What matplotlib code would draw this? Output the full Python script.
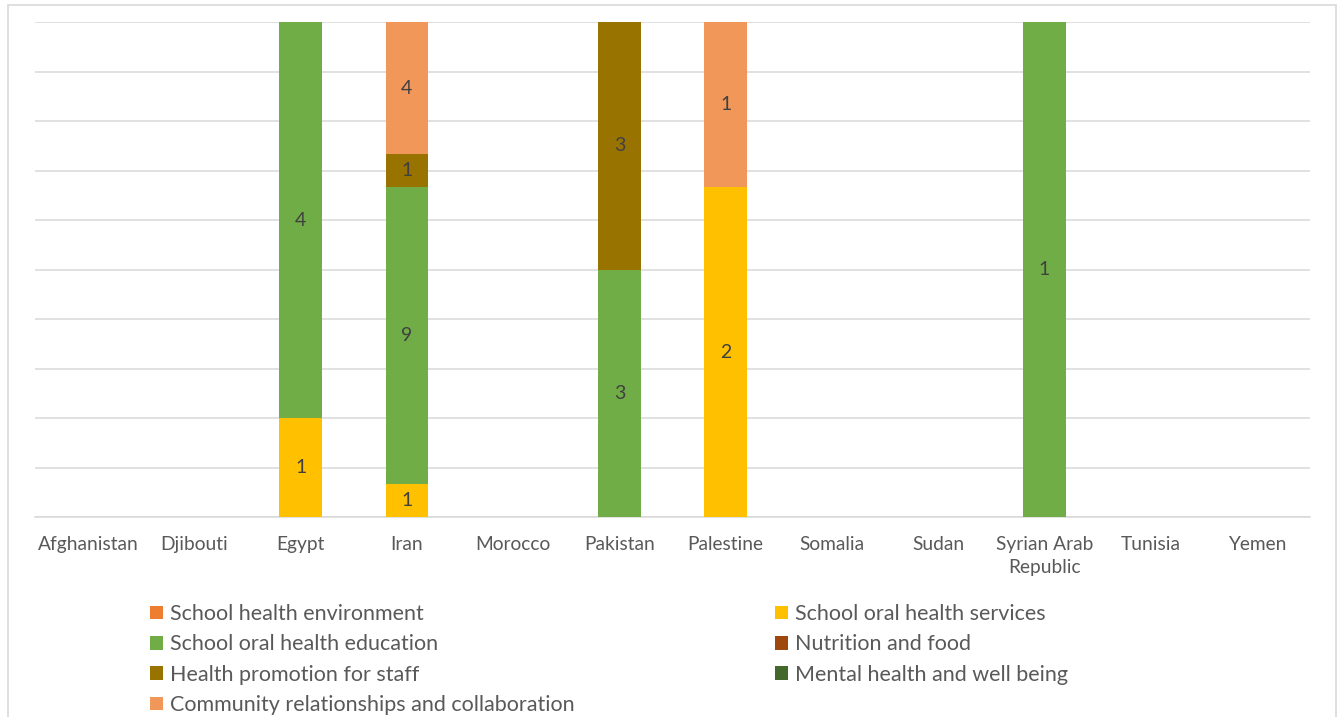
import matplotlib.pyplot as plt
import numpy as np
from matplotlib.patches import Rectangle

countries = ['Afghanistan', 'Djibouti', 'Egypt', 'Iran', 'Morocco', 'Pakistan', 'Palestine',
             'Somalia', 'Sudan', 'Syrian Arab\nRepublic', 'Tunisia', 'Yemen']
series_names = ['School health environment', 'School oral health services',
                'School oral health education', 'Nutrition and food',
                'Health promotion for staff', 'Mental health and well being',
                'Community relationships and collaboration']
env = [0, 0, 0, 0, 0, 0, 0, 0, 0, 0, 0, 0]
services = [0, 0, 1, 1, 0, 0, 2, 0, 0, 0, 0, 0]
education = [0, 0, 4, 9, 0, 3, 0, 0, 0, 1, 0, 0]
nutrition = [0, 0, 0, 0, 0, 0, 0, 0, 0, 0, 0, 0]
staff = [0, 0, 0, 1, 0, 3, 0, 0, 0, 0, 0, 0]
mental = [0, 0, 0, 0, 0, 0, 0, 0, 0, 0, 0, 0]
community = [0, 0, 0, 4, 0, 0, 1, 0, 0, 0, 0, 0]
colors = ['#ED7D31', '#FFC000', '#70AD47', '#9E480E', '#997300', '#43682B', '#F1975A']

plt.rcParams['font.family'] = ['Lato', 'DejaVu Sans']

data = np.array([env, services, education, nutrition, staff, mental, community], dtype=float)
totals = data.sum(axis=0)
pct = np.divide(data, totals, out=np.zeros_like(data), where=totals > 0) * 100

fig = plt.figure(figsize=(13.38, 7.17), dpi=100)
ax = fig.add_axes([35/1338, 1-517/717, (1310-35)/1338, 495/717])

x = np.arange(len(countries))
bottom = np.zeros(len(countries))
handles = []
for i in range(len(series_names)):
    b = ax.bar(x, pct[i], 0.4, bottom=bottom, color=colors[i], label=series_names[i], zorder=3)
    handles.append(b)
    for j in range(len(countries)):
        if data[i, j] > 0:
            ax.text(x[j], bottom[j] + pct[i, j]/2, '%d' % data[i, j], ha='center', va='center',
                    fontsize=14, color='#404040', zorder=4)
    bottom += pct[i]

ax.set_xlim(-0.5, len(countries) - 0.5)
ax.set_ylim(0, 100)
ax.set_yticks(np.arange(0, 101, 10))
ax.set_yticklabels([])
ax.tick_params(axis='y', length=0)
ax.set_xticks(x)
ax.set_xticklabels(countries, fontsize=13.75, color='#595959', linespacing=1.45)
ax.tick_params(axis='x', length=0, pad=13.5)
ax.grid(axis='y', color='#D9D9D9', linewidth=1.1, zorder=0)
for s in ['left', 'right', 'top']:
    ax.spines[s].set_visible(False)
ax.spines['bottom'].set_color('#D9D9D9')
ax.spines['bottom'].set_linewidth(1.1)

# legend laid out like the original: two columns, row-major order
col1 = [0, 2, 4, 6]
col2 = [1, 3, 5]
kw = dict(frameon=False, fontsize=15.5, labelcolor='#595959', handlelength=0.6, handleheight=0.6,
          handletextpad=0.35, labelspacing=0.48, borderpad=0, borderaxespad=0, loc='upper left')
leg1 = fig.legend([handles[i] for i in col1], [series_names[i] for i in col1],
                  bbox_to_anchor=(150/1338, 1-604/717), **kw)
leg2 = fig.legend([handles[i] for i in col2], [series_names[i] for i in col2],
                  bbox_to_anchor=(775/1338, 1-604/717), **kw)

fig.patches.append(Rectangle((8/1338, -0.01), 1328/1338, 1.01 - 5/717, transform=fig.transFigure,
                             fill=False, edgecolor='#D9D9D9', linewidth=1.2))

plt.savefig('out.png', dpi=100)
